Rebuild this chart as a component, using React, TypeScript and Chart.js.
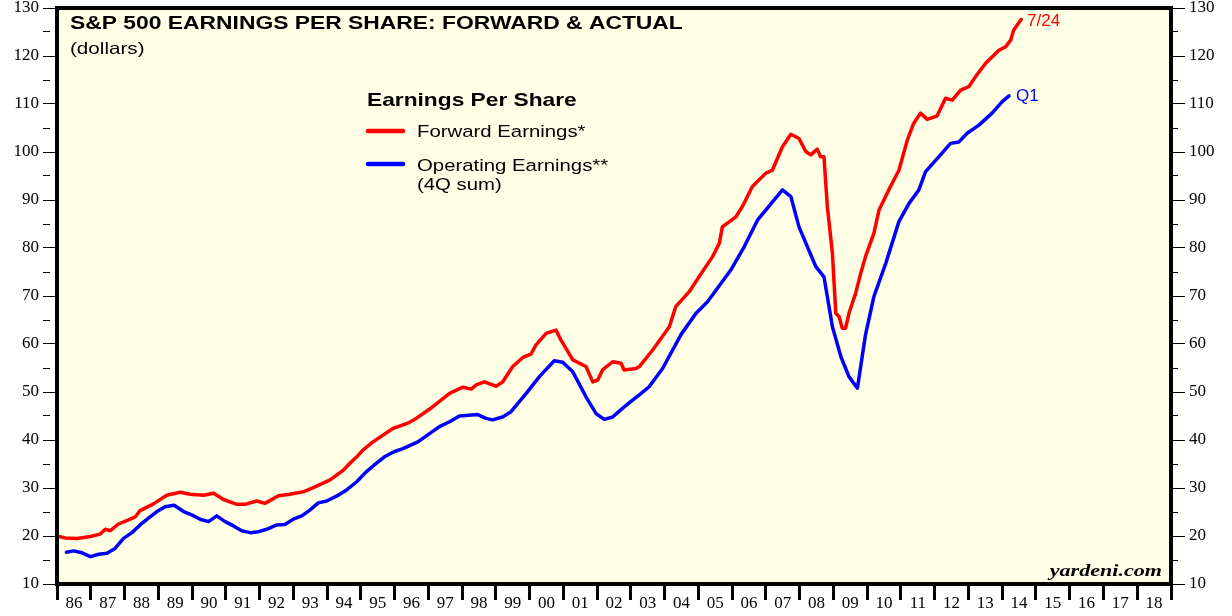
import React, { useEffect, useRef } from 'react';
import { Chart, registerables } from 'chart.js';

Chart.register(...registerables);

// ---- Data (decimal year, dollars) ----
const forwardDates = [
  1986.0, 1986.25, 1986.59, 1986.99, 1987.28, 1987.43, 1987.58, 1987.82, 1988.1, 1988.32,
  1988.46, 1988.86, 1989.25, 1989.65, 1989.94, 1990.34, 1990.64, 1990.93, 1991.33, 1991.57,
  1991.92, 1992.16, 1992.56, 1992.9, 1993.3, 1993.69, 1994.09, 1994.48, 1994.67, 1994.88, 1995.06,
  1995.36, 1995.95, 1996.39, 1996.64, 1997.03, 1997.63, 1998.02, 1998.27, 1998.42, 1998.66,
  1999.01, 1999.2, 1999.5, 1999.8, 2000.04, 2000.19, 2000.49, 2000.78, 2000.93, 2001.28,
  2001.67, 2001.87, 2002.02, 2002.16, 2002.46, 2002.71, 2002.8, 2003.15, 2003.25, 2003.64,
  2004.14, 2004.33, 2004.73, 2005.02, 2005.42, 2005.62, 2005.71, 2006.11, 2006.3, 2006.6,
  2007.0, 2007.19, 2007.49, 2007.74, 2007.98, 2008.18, 2008.33, 2008.52, 2008.62, 2008.72,
  2008.82, 2008.97, 2009.07, 2009.17, 2009.26, 2009.36, 2009.46, 2009.66, 2009.8, 2009.95,
  2010.2, 2010.35, 2010.64, 2010.94, 2011.19, 2011.38, 2011.58, 2011.78, 2012.07, 2012.32,
  2012.52, 2012.77, 2013.01, 2013.21, 2013.51, 2013.9, 2014.1, 2014.25, 2014.34, 2014.56,
];
const forwardEps = [
  20.0, 19.6, 19.5, 19.9, 20.4, 21.4, 21.1, 22.5, 23.3, 24.0,
  25.3, 26.7, 28.5, 29.1, 28.7, 28.5, 28.9, 27.6, 26.6, 26.6,
  27.3, 26.8, 28.4, 28.7, 29.2, 30.4, 31.7, 33.7, 35.1, 36.5, 37.9,
  39.6, 42.4, 43.5, 44.5, 46.4, 49.7, 51.0, 50.6, 51.5, 52.1,
  51.2, 52.1, 55.3, 57.2, 57.9, 59.8, 62.2, 62.9, 60.8, 56.7,
  55.3, 52.1, 52.5, 54.6, 56.3, 56.0, 54.6, 54.9, 55.3, 58.7,
  63.6, 67.8, 70.9, 74.0, 78.2, 81.0, 84.4, 86.5, 88.6, 92.8,
  95.6, 96.2, 101.1, 103.7, 102.8, 100.1, 99.4, 100.6, 99.0, 99.0,
  88.6, 78.9, 66.4, 65.7, 63.3, 63.3, 66.4, 70.6, 74.5, 78.2,
  83.1, 87.9, 92.1, 96.2, 102.5, 106.0, 108.1, 106.8, 107.5, 111.2,
  110.8, 112.9, 113.6, 115.7, 118.5, 121.2, 121.9, 123.3, 125.4, 127.6,
];

const operatingDates = [
  1986.28, 1986.49, 1986.74, 1986.99, 1987.23, 1987.48, 1987.72, 1987.97, 1988.22, 1988.46,
  1988.71, 1988.96, 1989.2, 1989.47, 1989.75, 1989.99, 1990.24, 1990.49, 1990.73, 1990.98,
  1991.23, 1991.47, 1991.72, 1991.97, 1992.21, 1992.51, 1992.75, 1993.0, 1993.25, 1993.49,
  1993.74, 1993.99, 1994.28, 1994.58, 1994.88, 1995.15, 1995.4, 1995.7, 1996.0, 1996.25,
  1996.69, 1997.33, 1997.63, 1997.92, 1998.46, 1998.71, 1998.9, 1999.2, 1999.45, 1999.9,
  2000.29, 2000.73, 2000.98, 2001.28, 2001.67, 2001.97, 2002.21, 2002.46, 2002.75, 2003.05,
  2003.25, 2003.54, 2003.94, 2004.48, 2004.93, 2005.27, 2005.96, 2006.36, 2006.75, 2007.49,
  2007.74, 2007.98, 2008.48, 2008.72, 2008.97, 2009.22, 2009.46, 2009.71, 2009.95, 2010.2,
  2010.55, 2010.94, 2011.24, 2011.53, 2011.73, 2012.12, 2012.47, 2012.72, 2012.96, 2013.31,
  2013.7, 2014.0, 2014.2,
];
const operatingEps = [
  16.6, 16.9, 16.5, 15.7, 16.2, 16.4, 17.4, 19.5, 20.7, 22.3,
  23.7, 25.1, 26.1, 26.4, 25.1, 24.4, 23.5, 23.0, 24.2, 23.0,
  22.1, 21.1, 20.7, 20.9, 21.4, 22.3, 22.4, 23.5, 24.2, 25.4,
  26.9, 27.3, 28.3, 29.6, 31.3, 33.3, 34.8, 36.5, 37.6, 38.2,
  39.6, 42.8, 43.8, 45.0, 45.3, 44.5, 44.2, 44.8, 45.9, 49.7,
  53.2, 56.5, 56.2, 54.2, 49.0, 45.5, 44.3, 44.8, 46.6, 48.3,
  49.4, 51.1, 54.9, 61.9, 66.4, 68.8, 75.4, 80.3, 85.8, 92.1,
  90.7, 84.4, 76.1, 74.0, 63.6, 57.4, 53.2, 50.8, 61.9, 69.9,
  76.8, 85.5, 89.3, 92.1, 95.9, 99.0, 101.8, 102.1, 103.9, 105.6,
  108.1, 110.5, 111.7,
];

const yearLabels = [
  '86', '87', '88', '89', '90', '91', '92', '93', '94', '95', '96',
  '97', '98', '99', '00', '01', '02', '03', '04', '05', '06', '07',
  '08', '09', '10', '11', '12', '13', '14', '15', '16', '17', '18',
];
const firstYear = 1986;

const chartTitle = 'S&P 500 EARNINGS PER SHARE: FORWARD & ACTUAL';
const chartSubtitle = '(dollars)';
const legendTitle = 'Earnings Per Share';
const forwardLabel = 'Forward Earnings*';
const operatingLabel = 'Operating Earnings**';
const operatingLabel2 = '(4Q sum)';
const forwardEndLabel = '7/24';
const operatingEndLabel = 'Q1';
const sourceLabel = 'yardeni.com';

const RED = '#ff0000';
const BLUE = '#0000ff';
const PLOT_BG = '#ffffe6';
const SX = 1.25;

function drawText(
  ctx: CanvasRenderingContext2D,
  text: string,
  x: number,
  y: number,
  font: string,
  color: string,
  sx = 1,
  align: CanvasTextAlign = 'left'
) {
  ctx.save();
  ctx.font = font;
  ctx.fillStyle = color;
  ctx.textAlign = align;
  ctx.textBaseline = 'alphabetic';
  ctx.translate(x, y);
  ctx.scale(sx, 1);
  ctx.fillText(text, 0, 0);
  ctx.restore();
}

const decorPlugin = {
  id: 'decor',
  beforeDraw(chart: any) {
    const { ctx, chartArea } = chart;
    const { left, top, right, bottom } = chartArea;
    ctx.save();
    ctx.fillStyle = '#ffffff';
    ctx.fillRect(0, 0, chart.width, chart.height);
    ctx.fillStyle = PLOT_BG;
    ctx.fillRect(left, top, right - left, bottom - top);
    ctx.restore();
  },
  afterDatasetsDraw(chart: any) {
    const { ctx, chartArea } = chart;
    const { left, top, right, bottom } = chartArea;
    ctx.save();
    ctx.strokeStyle = '#000';
    ctx.lineWidth = 4;
    ctx.strokeRect(left, top, right - left, bottom - top);
    ctx.restore();
  },
  afterDraw(chart: any) {
    const { ctx, chartArea, scales } = chart;
    const { left, top, right, bottom } = chartArea;
    const sans = 'Arial, "Liberation Sans", sans-serif';

    drawText(ctx, chartTitle, left + 13, top + 21, `bold 18.3px ${sans}`, '#000', SX);
    drawText(ctx, chartSubtitle, left + 13, top + 45.5, `16.5px ${sans}`, '#000', SX);

    // legend
    const lx = left + 310;
    drawText(ctx, legendTitle, lx, top + 97.5, `bold 18.2px ${sans}`, '#000', SX);
    ctx.save();
    ctx.lineCap = 'round';
    ctx.lineWidth = 4.5;
    ctx.strokeStyle = RED;
    ctx.beginPath();
    ctx.moveTo(lx + 1, top + 123);
    ctx.lineTo(lx + 36, top + 123);
    ctx.stroke();
    ctx.strokeStyle = BLUE;
    ctx.beginPath();
    ctx.moveTo(lx + 1, top + 156);
    ctx.lineTo(lx + 36, top + 156);
    ctx.stroke();
    ctx.restore();
    drawText(ctx, forwardLabel, lx + 50, top + 129, `16.3px ${sans}`, '#000', SX);
    drawText(ctx, operatingLabel, lx + 50, top + 163, `16.3px ${sans}`, '#000', SX);
    drawText(ctx, operatingLabel2, lx + 50, top + 181.5, `16.3px ${sans}`, '#000', SX);

    // end labels anchored to last data points
    const xs = scales.x;
    const ys = scales.y;
    const fx = xs.getPixelForValue(forwardDates[forwardDates.length - 1]);
    const fy = ys.getPixelForValue(forwardEps[forwardEps.length - 1]);
    drawText(ctx, forwardEndLabel, fx + 6, fy + 6.5, `17px ${sans}`, RED, 1);
    const ox = xs.getPixelForValue(operatingDates[operatingDates.length - 1]);
    const oy = ys.getPixelForValue(operatingEps[operatingEps.length - 1]);
    drawText(ctx, operatingEndLabel, ox + 7, oy + 5, `17px ${sans}`, BLUE, 1);

    drawText(ctx, sourceLabel, right - 9, bottom - 8, `italic bold 17px "Liberation Serif", "Times New Roman", serif`, '#000', 1.3, 'right');
  },
};

const serifTick = { family: '"Liberation Serif", "Times New Roman", serif', size: 17 };

function yAxis(position: 'left' | 'right', width: number) {
  return {
    type: 'linear' as const,
    position,
    min: 10,
    max: 130,
    border: { display: false },
    grid: {
      drawOnChartArea: false,
      drawTicks: true,
      tickLength: 14,
      color: '#000',
      lineWidth: 1,
      tickBorderDash: (c: any) => (c.tick && c.tick.value % 10 !== 0 ? [7, 100] : []),
    },
    ticks: {
      stepSize: 5,
      autoSkip: false,
      color: '#000',
      padding: 4,
      font: serifTick,
      callback: (v: any) => (Number(v) % 10 === 0 ? String(v) : ''),
    },
    afterFit: (s: any) => {
      s.width = width;
      s.paddingTop = 0;
      s.paddingBottom = 0;
    },
  };
}

export default function App() {
  const canvasRef = useRef<HTMLCanvasElement | null>(null);

  useEffect(() => {
    const canvas = canvasRef.current;
    if (!canvas) return;
    const forwardData = forwardDates.map((x, i) => ({ x, y: forwardEps[i] }));
    const operatingData = operatingDates.map((x, i) => ({ x, y: operatingEps[i] }));
    const lastYear = firstYear + yearLabels.length;

    const chart = new Chart(canvas, {
      type: 'line',
      data: {
        datasets: [
          {
            label: forwardLabel,
            data: forwardData,
            borderColor: RED,
            backgroundColor: RED,
            borderWidth: 3.5,
            pointRadius: 0,
            tension: 0,
            borderJoinStyle: 'round',
            borderCapStyle: 'round',
            yAxisID: 'y',
          },
          {
            label: operatingLabel,
            data: operatingData,
            borderColor: BLUE,
            backgroundColor: BLUE,
            borderWidth: 3.5,
            pointRadius: 0,
            tension: 0,
            borderJoinStyle: 'round',
            borderCapStyle: 'round',
            yAxisID: 'y',
          },
        ],
      },
      options: {
        animation: false,
        responsive: true,
        maintainAspectRatio: false,
        layout: { padding: { top: 8, left: 0, right: 0, bottom: 0 } },
        plugins: {
          legend: { display: false },
          tooltip: { enabled: false },
          title: { display: false },
        },
        scales: {
          x: {
            type: 'linear',
            position: 'bottom',
            min: firstYear,
            max: lastYear,
            border: { display: false },
            grid: {
              drawOnChartArea: false,
              drawTicks: true,
              tickLength: 16,
              color: '#000',
              lineWidth: (c: any) => (c.index % 2 === 0 ? 3 : 0),
            },
            ticks: {
              autoSkip: false,
              maxRotation: 0,
              minRotation: 0,
              color: '#000',
              padding: -7,
              font: serifTick,
              callback: (_v: any, i: number) => (i % 2 === 1 ? yearLabels[(i - 1) / 2] : ''),
            },
            afterBuildTicks: (s: any) => {
              const t: { value: number }[] = [];
              for (let i = 0; i <= yearLabels.length * 2; i++) t.push({ value: firstYear + i / 2 });
              s.ticks = t;
            },
            afterFit: (s: any) => {
              s.height = 32;
              s.paddingLeft = 0;
              s.paddingRight = 0;
            },
          },
          y: yAxis('left', 57),
          y2: yAxis('right', 61),
        },
      },
      plugins: [decorPlugin],
    } as any);
    return () => chart.destroy();
  }, []);

  return (
    <div style={{ position: 'fixed', left: 0, top: 0, width: 1232, height: 616, background: '#fff' }}>
      <canvas ref={canvasRef} style={{ display: 'block' }} />
    </div>
  );
}
